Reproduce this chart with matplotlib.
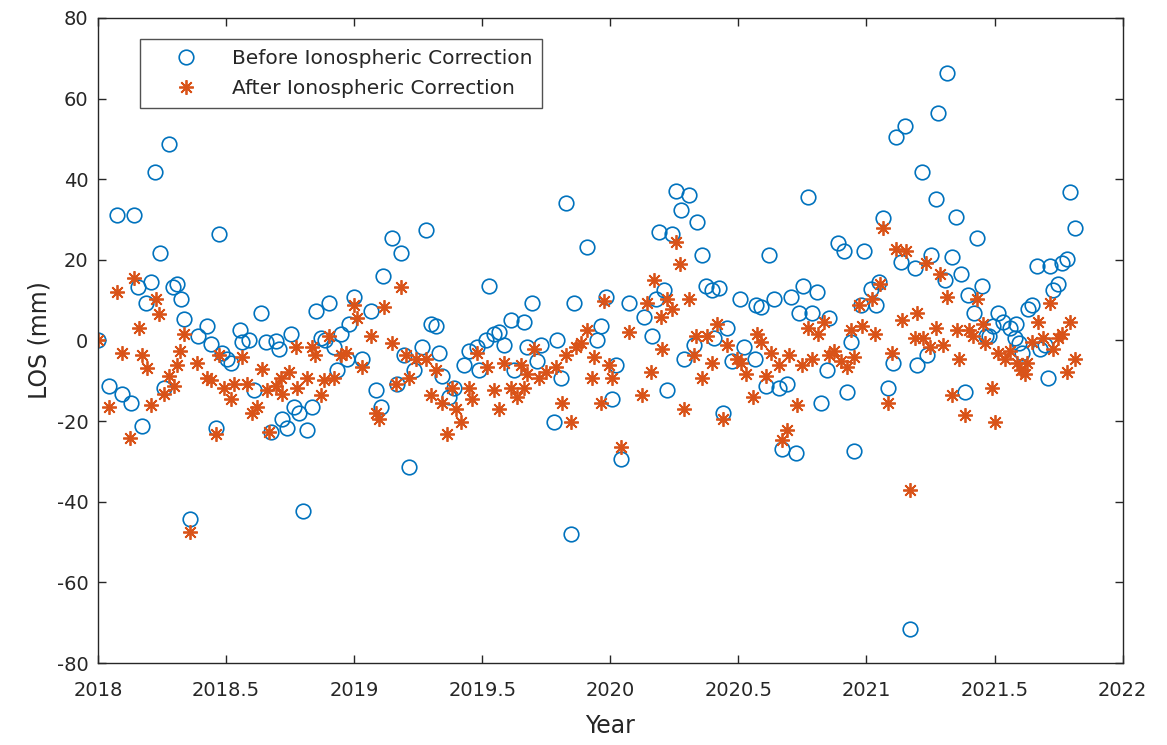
import matplotlib
matplotlib.use("Agg")
import matplotlib.pyplot as plt

plt.rcParams['font.family'] = ['DejaVu Sans']
plt.rcParams['axes.unicode_minus'] = False

# LOS displacement before ionospheric correction (decimal year, mm)
year_before = [
    2018.000, 2018.043, 2018.074, 2018.094, 2018.129, 2018.141, 2018.156, 2018.172, 2018.188, 2018.207,
    2018.223, 2018.242, 2018.258, 2018.277, 2018.293, 2018.309, 2018.324, 2018.336, 2018.359, 2018.391,
    2018.426, 2018.441, 2018.461, 2018.473, 2018.484, 2018.504, 2018.520, 2018.555, 2018.563, 2018.590,
    2018.609, 2018.637, 2018.656, 2018.676, 2018.695, 2018.707, 2018.719, 2018.738, 2018.754, 2018.766,
    2018.785, 2018.801, 2018.816, 2018.836, 2018.852, 2018.871, 2018.887, 2018.902, 2018.922, 2018.934,
    2018.949, 2018.973, 2018.980, 2019.000, 2019.031, 2019.066, 2019.086, 2019.105, 2019.113, 2019.148,
    2019.168, 2019.184, 2019.195, 2019.215, 2019.234, 2019.266, 2019.281, 2019.301, 2019.320, 2019.332,
    2019.344, 2019.371, 2019.391, 2019.430, 2019.449, 2019.480, 2019.488, 2019.516, 2019.527, 2019.547,
    2019.566, 2019.586, 2019.613, 2019.625, 2019.664, 2019.676, 2019.695, 2019.715, 2019.730, 2019.781,
    2019.793, 2019.809, 2019.828, 2019.848, 2019.859, 2019.910, 2019.949, 2019.965, 2019.984, 2020.008,
    2020.023, 2020.043, 2020.074, 2020.133, 2020.164, 2020.180, 2020.191, 2020.211, 2020.223, 2020.242,
    2020.258, 2020.277, 2020.289, 2020.309, 2020.328, 2020.340, 2020.359, 2020.375, 2020.395, 2020.406,
    2020.426, 2020.438, 2020.457, 2020.473, 2020.508, 2020.523, 2020.563, 2020.570, 2020.590, 2020.609,
    2020.621, 2020.637, 2020.660, 2020.672, 2020.691, 2020.707, 2020.723, 2020.738, 2020.754, 2020.770,
    2020.789, 2020.805, 2020.824, 2020.844, 2020.855, 2020.887, 2020.914, 2020.922, 2020.941, 2020.953,
    2020.980, 2020.992, 2021.016, 2021.039, 2021.047, 2021.066, 2021.082, 2021.102, 2021.117, 2021.133,
    2021.152, 2021.168, 2021.188, 2021.199, 2021.215, 2021.238, 2021.250, 2021.270, 2021.281, 2021.305,
    2021.316, 2021.332, 2021.348, 2021.367, 2021.383, 2021.395, 2021.418, 2021.430, 2021.449, 2021.465,
    2021.480, 2021.492, 2021.512, 2021.531, 2021.559, 2021.578, 2021.582, 2021.594, 2021.609, 2021.629,
    2021.648, 2021.664, 2021.676, 2021.695, 2021.707, 2021.715, 2021.727, 2021.746, 2021.762, 2021.781,
    2021.793, 2021.813,
]
los_before = [
    0.0, -11.2, 31.0, -13.2, -15.4, 31.0, 13.2, -21.1, 9.4, 14.6,
    41.7, 21.6, -11.7, 48.6, 13.2, 13.9, 10.2, 5.2, -44.2, 1.0,
    3.5, -1.0, -21.8, 26.3, -3.0, -4.5, -5.7, 2.7, -0.5, 0.2,
    -12.4, 6.9, -0.5, -22.6, -0.2, -2.0, -19.4, -21.8, 1.7, -16.4,
    -17.9, -42.2, -22.1, -16.6, 7.2, 0.5, 0.0, 9.2, -1.7, -7.4,
    1.7, -4.5, 4.2, 10.7, -4.5, 7.4, -12.4, -16.6, 16.1, 25.3,
    -10.7, 21.6, -3.7, -31.5, -7.4, -1.7, 27.5, 4.2, 3.7, -3.2,
    -8.7, -14.1, -11.7, -6.2, -2.5, -1.7, -7.4, 0.0, 13.6, 1.7,
    2.0, -1.2, 5.0, -7.4, 4.5, -1.7, 9.2, -5.0, -1.2, -20.3,
    0.0, -9.2, 34.2, -48.1, 9.2, 23.1, 0.0, 3.7, 10.7, -14.6,
    -6.2, -29.5, 9.4, 5.7, 1.0, 10.4, 26.8, 12.4, -12.4, 26.3,
    37.0, 32.3, -4.5, 36.0, -1.2, 29.3, 21.1, 13.6, 12.4, 0.7,
    12.9, -17.9, 3.0, -5.0, 10.4, -1.7, -4.5, 8.7, 8.2, -11.2,
    21.1, 10.4, -11.7, -27.0, -10.7, 10.7, -28.0, 6.9, 13.6, 35.7,
    6.7, 11.9, -15.6, -7.4, 5.5, 24.1, 22.3, -12.9, -0.5, -27.5,
    8.7, 22.3, 12.7, 8.9, 14.4, 30.3, -11.7, -5.5, 50.4, 19.4,
    53.3, -71.5, 17.9, -6.0, 41.9, -3.5, 21.3, 35.2, 56.3, 14.9,
    66.3, 20.8, 30.5, 16.4, -12.9, 11.2, 6.7, 25.3, 13.4, 1.2,
    1.2, 3.7, 6.9, 4.5, 3.0, 0.7, 4.2, -0.7, -3.0, 7.9,
    8.9, 18.4, -2.0, -1.2, -9.4, 18.4, 12.4, 14.1, 19.1, 20.3,
    36.7, 28.0,
]

# LOS displacement after ionospheric correction (decimal year, mm)
year_after = [
    2018.000, 2018.043, 2018.074, 2018.094, 2018.125, 2018.141, 2018.160, 2018.172, 2018.191, 2018.207,
    2018.227, 2018.238, 2018.258, 2018.277, 2018.297, 2018.309, 2018.320, 2018.336, 2018.359, 2018.387,
    2018.426, 2018.441, 2018.461, 2018.473, 2018.492, 2018.520, 2018.531, 2018.563, 2018.582, 2018.602,
    2018.621, 2018.641, 2018.660, 2018.668, 2018.695, 2018.715, 2018.719, 2018.746, 2018.773, 2018.777,
    2018.816, 2018.836, 2018.848, 2018.871, 2018.883, 2018.902, 2018.922, 2018.949, 2018.969, 2019.000,
    2019.012, 2019.031, 2019.066, 2019.086, 2019.098, 2019.117, 2019.148, 2019.164, 2019.184, 2019.203,
    2019.215, 2019.242, 2019.281, 2019.301, 2019.320, 2019.344, 2019.363, 2019.383, 2019.398, 2019.418,
    2019.449, 2019.461, 2019.480, 2019.520, 2019.547, 2019.566, 2019.586, 2019.613, 2019.637, 2019.652,
    2019.664, 2019.676, 2019.703, 2019.723, 2019.750, 2019.789, 2019.813, 2019.828, 2019.848, 2019.867,
    2019.887, 2019.910, 2019.930, 2019.938, 2019.965, 2019.977, 2019.996, 2020.008, 2020.043, 2020.074,
    2020.125, 2020.145, 2020.160, 2020.172, 2020.199, 2020.203, 2020.223, 2020.242, 2020.258, 2020.270,
    2020.289, 2020.309, 2020.328, 2020.336, 2020.359, 2020.379, 2020.398, 2020.418, 2020.438, 2020.457,
    2020.496, 2020.512, 2020.531, 2020.555, 2020.574, 2020.590, 2020.609, 2020.629, 2020.660, 2020.672,
    2020.688, 2020.699, 2020.727, 2020.750, 2020.770, 2020.789, 2020.809, 2020.836, 2020.855, 2020.875,
    2020.902, 2020.922, 2020.941, 2020.953, 2020.969, 2020.984, 2021.020, 2021.035, 2021.051, 2021.066,
    2021.082, 2021.098, 2021.117, 2021.137, 2021.156, 2021.168, 2021.188, 2021.199, 2021.219, 2021.234,
    2021.246, 2021.273, 2021.285, 2021.297, 2021.316, 2021.332, 2021.352, 2021.363, 2021.383, 2021.402,
    2021.414, 2021.430, 2021.453, 2021.461, 2021.488, 2021.500, 2021.512, 2021.539, 2021.559, 2021.586,
    2021.605, 2021.617, 2021.625, 2021.645, 2021.668, 2021.688, 2021.715, 2021.727, 2021.746, 2021.762,
    2021.781, 2021.793, 2021.813,
]
los_after = [
    0.0, -16.4, 11.9, -3.0, -24.1, 15.4, 3.2, -3.5, -6.9, -16.1,
    10.2, 6.5, -13.2, -8.9, -11.2, -6.2, -2.5, 1.7, -47.6, -5.5,
    -9.2, -9.7, -23.1, -3.5, -11.7, -14.4, -10.9, -4.2, -10.9, -18.1,
    -16.6, -7.2, -12.4, -22.6, -11.2, -9.2, -13.2, -7.9, -1.7, -11.7,
    -9.2, -1.7, -3.7, -13.6, -9.9, 1.2, -9.2, -3.7, -3.2, 8.7,
    5.5, -6.7, 1.2, -17.9, -19.4, 8.2, -0.7, -10.7, 13.2, -3.7,
    -9.4, -4.5, -4.5, -13.6, -7.4, -15.6, -23.1, -11.9, -16.9, -20.3,
    -11.9, -14.4, -3.2, -6.7, -12.4, -16.9, -5.7, -11.7, -14.1, -6.2,
    -11.9, -8.2, -2.0, -9.4, -7.9, -6.7, -15.6, -3.7, -20.3, -1.7,
    -0.7, 2.5, -9.2, -4.2, -15.6, 9.9, -6.2, -9.2, -26.3, 2.0,
    -13.6, 9.4, -7.9, 15.1, 5.7, -2.0, 10.4, 7.9, 24.3, 18.9,
    -16.9, 10.2, -3.7, 1.2, -9.4, 1.2, -5.5, 4.2, -19.4, -1.2,
    -4.5, -5.5, -8.2, -14.1, 1.7, -0.5, -8.7, -3.0, -6.2, -24.8,
    -22.3, -3.7, -16.1, -6.2, 3.0, -4.5, 1.7, 4.5, -3.7, -2.5,
    -5.0, -6.7, 2.5, -4.2, 8.7, 3.7, 10.4, 1.7, 14.1, 28.0,
    -15.6, -3.2, 22.8, 5.0, 22.3, -37.2, 0.5, 6.7, 0.7, 19.1,
    -1.7, 3.2, 16.6, -1.2, 10.7, -13.6, 2.5, -4.7, -18.6, 2.5,
    1.2, 10.2, 4.2, -0.7, -11.7, -20.3, -3.2, -4.5, -2.5, -5.5,
    -7.4, -8.2, -5.7, -0.5, 4.5, 0.5, 9.2, -2.0, 0.5, 1.7,
    -7.9, 4.5, -4.5,
]

series_labels = ['Before Ionospheric Correction', 'After Ionospheric Correction']
x_ticks = [2018, 2018.5, 2019, 2019.5, 2020, 2020.5, 2021, 2021.5, 2022]
x_tick_labels = ['2018', '2018.5', '2019', '2019.5', '2020', '2020.5', '2021', '2021.5', '2022']
y_ticks = [-80, -60, -40, -20, 0, 20, 40, 60, 80]

axis_color = '#262626'

fig = plt.figure(figsize=(11.67, 7.45), dpi=100)
ax = fig.add_axes([0.084, 0.110, 0.878, 0.866])

ax.plot(year_before, los_before, linestyle='none', marker='o', markersize=10.5,
        markerfacecolor='none', markeredgecolor='#0072BD', markeredgewidth=1.2,
        label=series_labels[0])
ax.plot(year_after, los_after, linestyle='none', marker=(8, 2, 0), markersize=10.5,
        markeredgecolor='#D95319', markerfacecolor='#D95319', markeredgewidth=1.3,
        label=series_labels[1])

ax.set_xlim(2018, 2022)
ax.set_ylim(-80, 80)
ax.set_xticks(x_ticks)
ax.set_xticklabels(x_tick_labels)
ax.set_yticks(y_ticks)

ax.tick_params(direction='in', length=6, width=1.0, colors=axis_color,
               labelsize=14, top=True, right=True)
ax.tick_params(axis='x', pad=13)
ax.tick_params(axis='y', pad=7)
for s in ax.spines.values():
    s.set_color(axis_color)
    s.set_linewidth(1.0)

ax.set_xlabel('Year', fontsize=17, color=axis_color, labelpad=10)
ax.set_ylabel('LOS (mm)', fontsize=17, color=axis_color, labelpad=4)

leg = ax.legend(loc='upper left', bbox_to_anchor=(0.041, 0.967), borderaxespad=0,
                fontsize=14.5, frameon=True, fancybox=False, handlelength=3.6,
                handletextpad=0.45, borderpad=0.5, labelspacing=0.55)
leg.get_frame().set_edgecolor(axis_color)
leg.get_frame().set_linewidth(1.0)
for t in leg.get_texts():
    t.set_color(axis_color)

fig.savefig('out.png', dpi=100, facecolor='white')
